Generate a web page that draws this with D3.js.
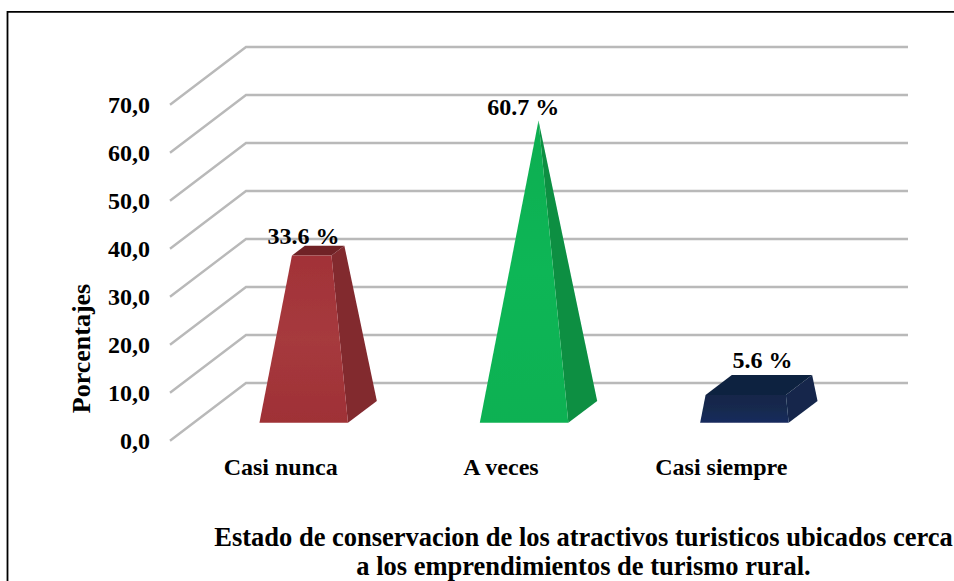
<!DOCTYPE html>
<html>
<head>
<meta charset="utf-8">
<script src="https://cdn.jsdelivr.net/npm/d3@7"></script>
<style>
   html, body { margin: 0; padding: 0; background: #fff; }
   svg { display: block; }
   text { font-family: "Liberation Serif", serif; font-weight: bold; fill: #000; }
</style>
</head>
<body>
<div id="chart"></div>
<script>
const categories = ['Casi nunca', 'A veces', 'Casi siempre'];
const values = [33.6, 60.7, 5.6];
const valueLabels = ['33.6 %', '60.7 %', '5.6 %'];
const ticks = [0, 10, 20, 30, 40, 50, 60, 70];
const tickLabels = ['0,0', '10,0', '20,0', '30,0', '40,0', '50,0', '60,0', '70,0'];
const yTitle = 'Porcentajes';
const xTitle = ['Estado de conservacion de los atractivos turisticos ubicados cerca', 'a los emprendimientos de turismo rural.'];
const faceColors = [
   { front: ['#a23238', '#a63a3d', '#9f3036'], side: '#82292f', top: '#6f2227' },
   { front: ['#0cae50', '#0fb656', '#0cb152'], side: '#088f43', top: '#0cae50' },
   { front: ['#12264a', '#12294e', '#172a5e'], side: '#13264c', top: '#10213f' },
];

const width = 954;
const height = 581;

const svg = d3.select('#chart').append('svg').attr('width', width).attr('height', height);

// frame of the picture, open at the bottom and right
svg.append('path')
   .attr('d', `M7.5,${height} V11.8 H${width}`)
   .attr('fill', 'none')
   .attr('stroke', '#000')
   .attr('stroke-width', 1.8);

// oblique projection: value goes up, depth goes back to the wall
const yScale = d3.scaleLinear().domain([0, 70]).range([440.7, 104.7]);
const depthX = d3.scaleLinear().domain([0, 1]).range([0, 76]);
const depthY = d3.scaleLinear().domain([0, 1]).range([0, -57.7]);
const xScale = d3.scalePoint().domain(categories).range([280.15, 720.85]);
const barWidth = 88.5;
const barDepth = [0.31, 0.69];
const wallX = 170;
const rightX = 908;

const project = (x, v, d) => [x + depthX(d), yScale(v) + depthY(d)];

const defs = svg.append('defs');
defs.append('filter').attr('id', 'soft')
   .append('feGaussianBlur').attr('stdDeviation', 0.5);
faceColors.forEach((c, i) => {
   const g = defs.append('linearGradient').attr('id', `front${i}`).attr('x1', 0).attr('x2', 0).attr('y1', 0).attr('y2', 1);
   c.front.forEach((col, j) => {
      g.append('stop').attr('offset', `${j * 50}%`).attr('stop-color', col);
   });
});

const grid = svg.append('g').attr('class', 'grid').attr('filter', 'url(#soft)');
grid.selectAll('path.wall')
   .data(ticks)
   .join('path')
   .attr('class', 'wall')
   .attr('fill', 'none')
   .attr('stroke', '#b9b9b9')
   .attr('stroke-width', 2.4)
   .attr('d', (t) => d3.line()([project(wallX, t, 0), project(wallX, t, 1), [rightX, project(wallX, t, 1)[1]]]));

// every bar is a pyramid cut off at its value, the tip sits at the largest value
const maxValue = d3.max(values);
const bars = svg.append('g').attr('class', 'bars').attr('filter', 'url(#soft)');
values.forEach((v, i) => {
   const cx = xScale(categories[i]);
   const midD = (barDepth[0] + barDepth[1]) / 2;
   const k = 1 - v / maxValue;
   const corner = (sx, sd, val, scale) => project(
      cx + sx * scale * barWidth / 2,
      val,
      midD + sd * scale * (barDepth[1] - barDepth[0]) / 2
   );
   const g = bars.append('g');
   const poly = (pts, fill) => g.append('polygon')
      .attr('points', pts.join(' '))
      .attr('fill', fill);
   // right side
   poly([corner(1, -1, 0, 1), corner(1, 1, 0, 1), corner(1, 1, v, k), corner(1, -1, v, k)], faceColors[i].side);
   // top
   if (k > 0) poly([corner(-1, -1, v, k), corner(1, -1, v, k), corner(1, 1, v, k), corner(-1, 1, v, k)], faceColors[i].top);
   // front
   poly([corner(-1, -1, 0, 1), corner(1, -1, 0, 1), corner(1, -1, v, k), corner(-1, -1, v, k)], `url(#front${i})`);
});

// axis labels
svg.append('g').selectAll('text')
   .data(ticks)
   .join('text')
   .attr('x', 150)
   .attr('y', (t) => yScale(t) + 8.5)
   .attr('text-anchor', 'end')
   .attr('font-size', 24)
   .text((t, i) => tickLabels[i]);

svg.append('g').selectAll('text')
   .data(categories)
   .join('text')
   .attr('x', (c) => xScale(c) + 0.5)
   .attr('y', 475)
   .attr('text-anchor', 'middle')
   .attr('font-size', 24)
   .text((c) => c);

// value labels were placed by hand in the original, so they are nudged one by one
const labelDx = [23.3, 22.7, 41.6];
const labelY = [244, 115, 368];
svg.append('g').selectAll('text')
   .data(values)
   .join('text')
   .attr('x', (v, i) => xScale(categories[i]) + labelDx[i])
   .attr('y', (v, i) => labelY[i])
   .attr('text-anchor', 'middle')
   .attr('font-size', 24)
   .text((v, i) => valueLabels[i]);

svg.append('text')
   .attr('transform', 'translate(90,348.5) rotate(-90)')
   .attr('text-anchor', 'middle')
   .attr('font-size', 26)
   .text(yTitle);

svg.append('g').selectAll('text')
   .data(xTitle)
   .join('text')
   .attr('x', 583.5)
   .attr('y', (d, i) => 546 + i * 28.8)
   .attr('text-anchor', 'middle')
   .attr('font-size', 26.5)
   .text((d) => d);
</script>
</body>
</html>
